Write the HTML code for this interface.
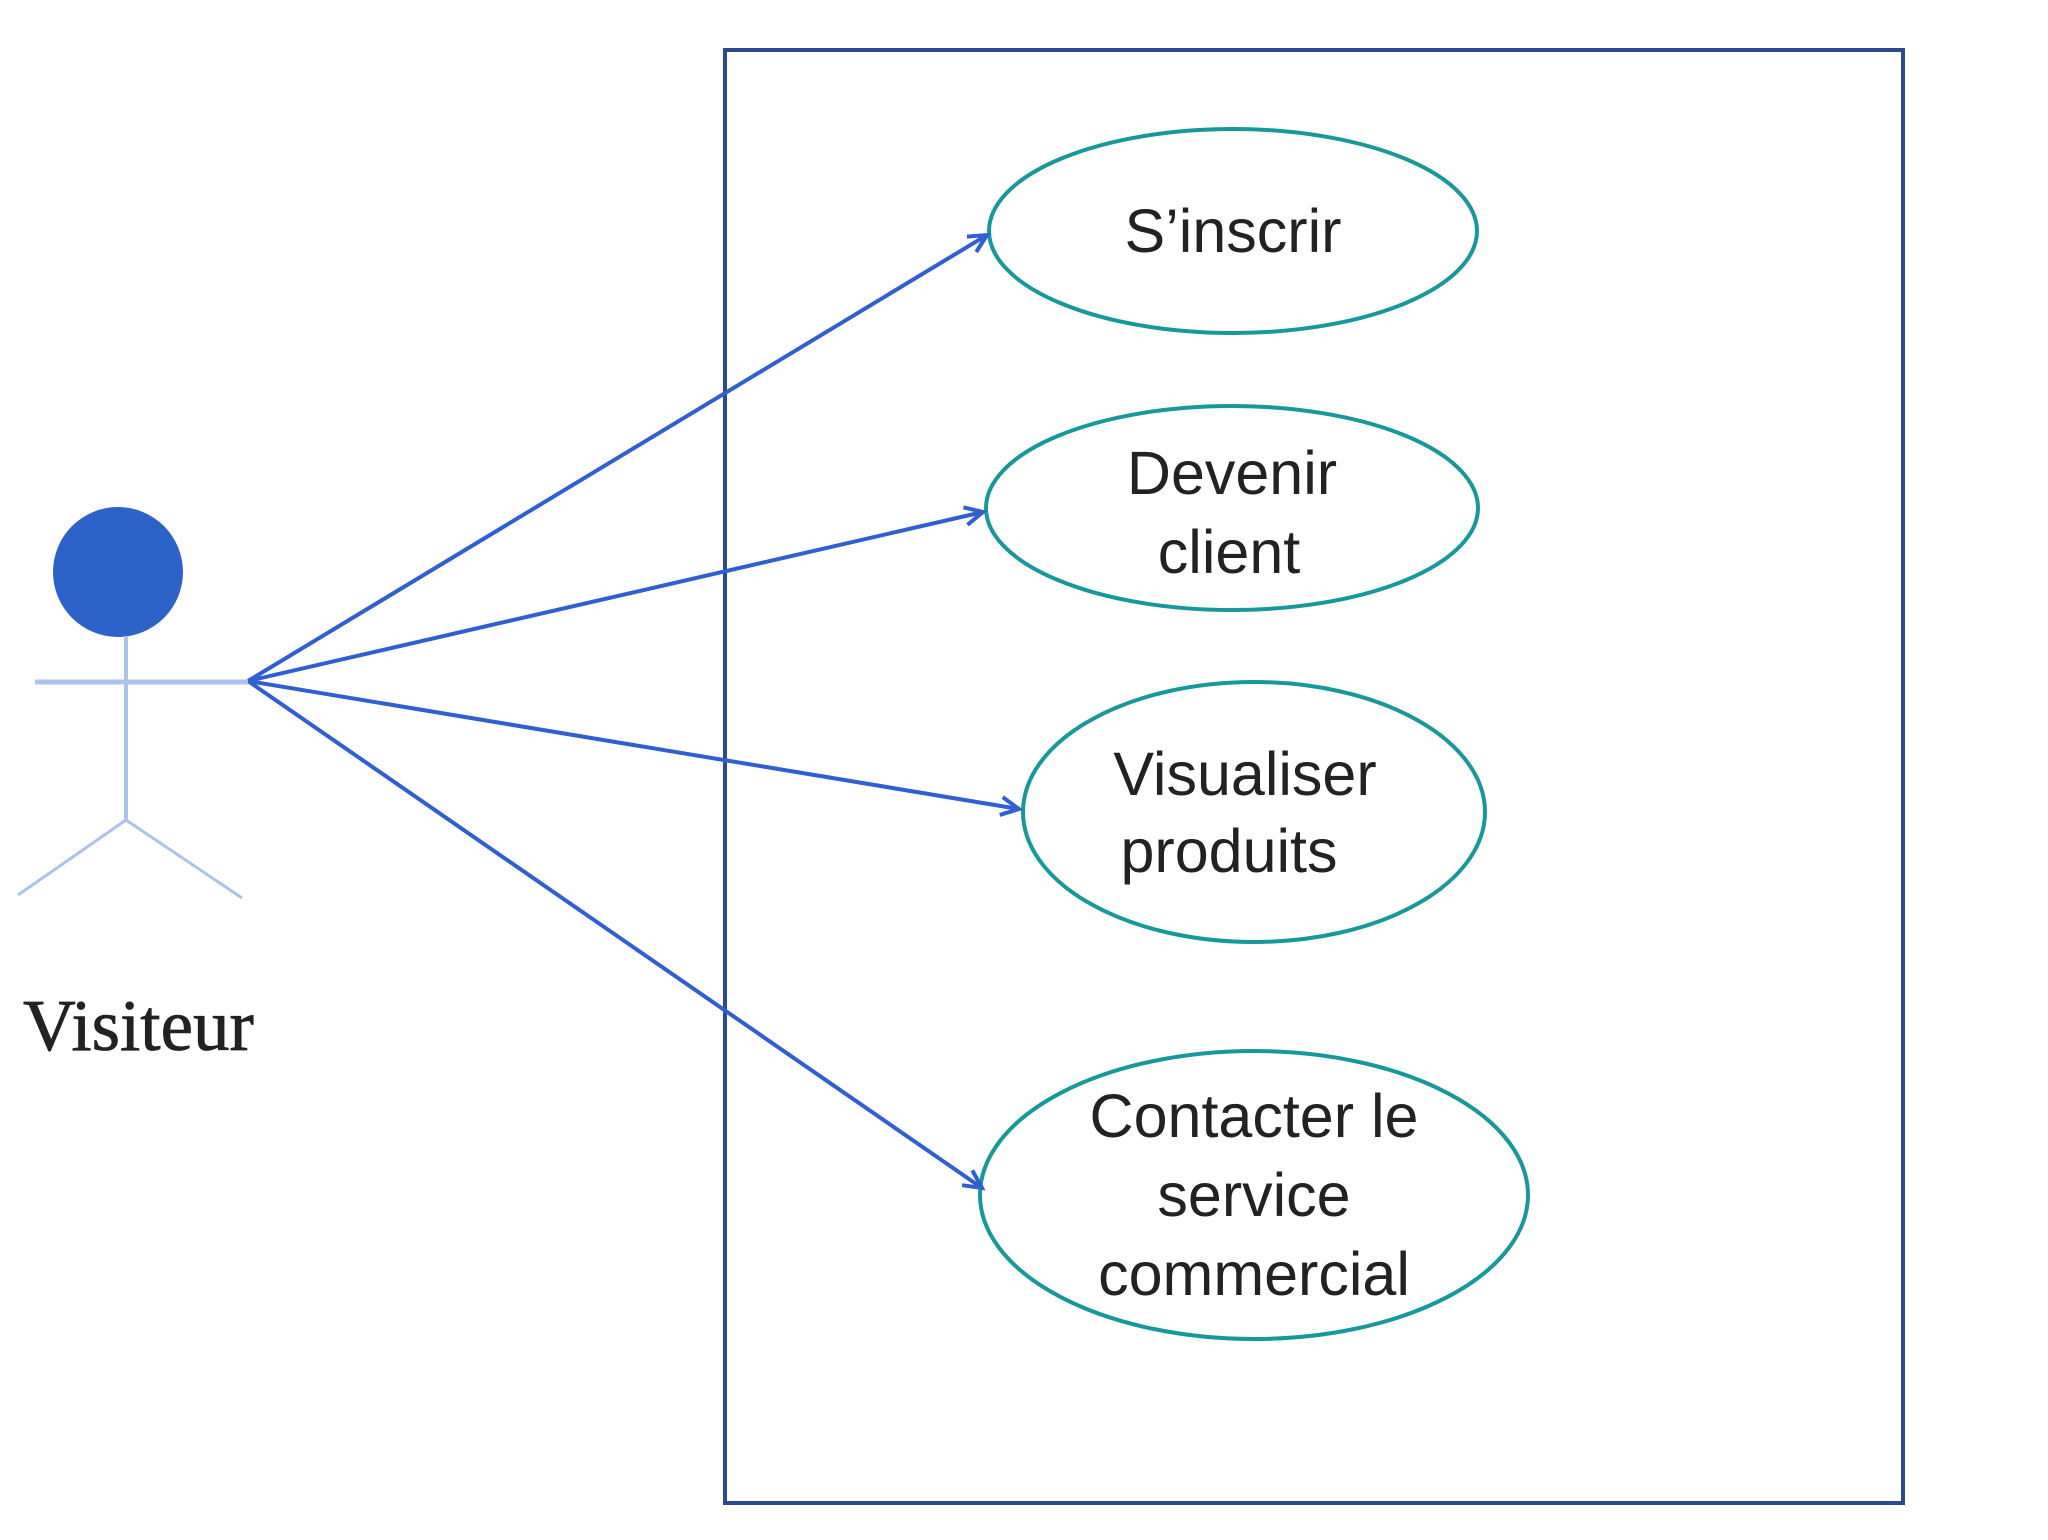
<!DOCTYPE html>
<html><head><meta charset="utf-8"><style>html,body{margin:0;padding:0;background:#fff}svg{display:block}</style></head>
<body>
<svg width="2048" height="1540" viewBox="0 0 2048 1540" xmlns="http://www.w3.org/2000/svg">
<defs>
<marker id="a" markerWidth="24" markerHeight="24" refX="20" refY="12" orient="auto" markerUnits="userSpaceOnUse" viewBox="0 0 24 24">
<path d="M2,3 L20,12 L2,21" fill="none" stroke="#2f5fd0" stroke-width="4"/>
</marker>
</defs>
<rect x="725" y="50" width="1178" height="1453" fill="none" stroke="#2e4a8f" stroke-width="4"/>
<g fill="none" stroke="#17989a" stroke-width="4">
<ellipse cx="1233" cy="231" rx="244" ry="102"/>
<ellipse cx="1232" cy="508" rx="246" ry="102"/>
<ellipse cx="1254" cy="812" rx="231" ry="130"/>
<ellipse cx="1254" cy="1195" rx="274" ry="144"/>
</g>
<g stroke="#2f5fd0" stroke-width="4" fill="none">
<line x1="248" y1="681" x2="987" y2="235" marker-end="url(#a)"/>
<line x1="248" y1="681" x2="983" y2="512" marker-end="url(#a)"/>
<line x1="248" y1="681" x2="1019" y2="809" marker-end="url(#a)"/>
<line x1="248" y1="681" x2="982" y2="1188" marker-end="url(#a)"/>
</g>
<circle cx="118" cy="572" r="65" fill="#2d63c9"/>
<g stroke="#aec2ee" stroke-width="3" fill="none">
<line x1="35" y1="682" x2="248" y2="682" stroke-width="5"/>
<line x1="126" y1="636" x2="126" y2="820" stroke-width="4"/>
<line x1="126" y1="820" x2="18" y2="895"/>
<line x1="126" y1="820" x2="242" y2="898"/>
</g>
<text x="23" y="1050" font-family="Liberation Serif, serif" font-size="73" fill="#222" stroke="#222" stroke-width="0.8">Visiteur</text>
<g font-family="Liberation Sans, sans-serif" font-size="61" fill="#222" text-anchor="middle">
<text x="1233" y="252">S’inscrir</text>
<text x="1232" y="494">Devenir</text>
<text x="1229" y="573">client</text>
<text x="1245" y="795">Visualiser</text>
<text x="1229" y="872">produits</text>
<text x="1254" y="1137">Contacter le</text>
<text x="1254" y="1216">service</text>
<text x="1254" y="1295">commercial</text>
</g>
</svg>
</body></html>
